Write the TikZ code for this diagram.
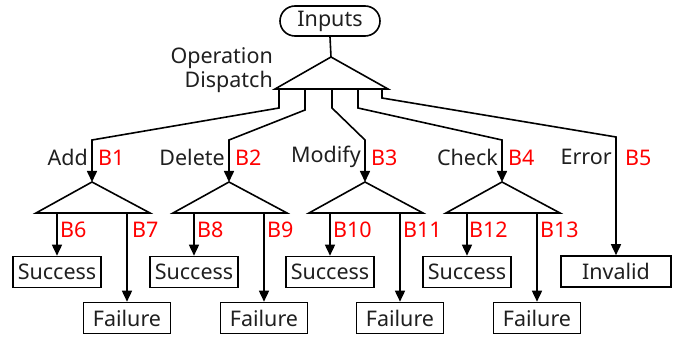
\documentclass[tikz,border=0pt]{standalone}
\usepackage{fontspec}
\setmainfont{Noto Sans}
\usetikzlibrary{arrows.meta}
\begin{document}
\begin{tikzpicture}[x=1pt,y=-1pt,
  every node/.style={font=\fontsize{21.5}{23.5}\selectfont, text=black!88},
  box/.style={draw, line width=1.6pt, rectangle, minimum height=31pt, inner sep=0pt},
  succ/.style={box, minimum width=88pt},
  fail/.style={box, minimum width=87pt},
  tri/.style={line width=1.6pt, line join=miter},
  conn/.style={line width=1.6pt},
  arr/.style={conn, -{Triangle[length=11pt,width=10pt]}},
  blab/.style={text=red, anchor=west, inner sep=0pt},
  oplab/.style={anchor=east, inner sep=0pt}]
\useasboundingbox (0,0) rectangle (691,339);

% input terminal
\node[draw, line width=1.6pt, rounded corners=15pt, minimum width=100pt, minimum height=30pt, inner sep=0pt] (inputs) at (330,21) {Inputs};

% dispatch triangle
\coordinate (dtop) at (331,57);
\coordinate (dl) at (275,89);
\coordinate (dr) at (388,89);
\draw[tri] (dtop) -- (dl) -- (dr) -- cycle;
\draw[conn] (inputs.south) -- (dtop);
\node[anchor=east, align=right, inner sep=0pt] (dispatch) at (273,70) {Operation\\Dispatch};

% outlets on the dispatch base
\coordinate (o1) at (279,89);
\coordinate (o2) at (305,89);
\coordinate (o3) at (332,89);
\coordinate (o4) at (358,89);
\coordinate (o5) at (382,89);

% one sub-triangle per operation
\foreach \n/\cx in {1/92, 2/229, 3/365, 4/502} {
  \coordinate (t\n) at (\cx,182);
  \coordinate (l\n) at (\cx-56,213);
  \coordinate (r\n) at (\cx+58,213);
  \coordinate (bend\n) at (\cx,140);
  \draw[tri] (t\n) -- (l\n) -- (r\n) -- cycle;
  \coordinate (sl\n) at (\cx-35,213);
  \coordinate (sr\n) at (\cx+35,213);
  \node[succ] (s\n) at (\cx-35,272) {Success};
  \node[fail] (f\n) at (\cx+35,318) {Failure};
  \draw[arr] (sl\n) -- (s\n.north -| sl\n);
  \draw[arr] (sr\n) -- (f\n.north -| sr\n);
}

\node[box, minimum width=110pt] (invalid) at (616,271.5) {Invalid};
\coordinate (bend5) at (616,137);

% dispatch connectors
\draw[arr] (o1) -- ++(0,19) -- (bend1) -- (t1);
\draw[arr] (o2) -- ++(0,21) -- (bend2) -- (t2);
\draw[arr] (o3) -- ++(0,19) -- (bend3) -- (t3);
\draw[arr] (o4) -- ++(0,19) -- (bend4) -- (t4);
\draw[arr] (o5) -- ++(0,9) -- (bend5) -- (invalid.north);

% operation labels
\node[oplab] (lAdd) at (88,157) {Add};
\node[oplab] (lDel) at (225,157) {Delete};
\node[oplab] (lMod) at (361,157) {Modify};
\node[oplab] (lChk) at (498,157) {Check};
\node[oplab] (lErr) at (612,157) {Error};
\node[blab] (B1) at (98,158) {B1};
\node[blab] (B2) at (235,158) {B2};
\node[blab] (B3) at (371,158) {B3};
\node[blab] (B4) at (508,158) {B4};
\node[blab] (B5) at (625,158) {B5};

% outcome labels
\node[blab] (B6) at (60,230) {B6};
\node[blab] (B7) at (132,230) {B7};
\node[blab] (B8) at (197,230) {B8};
\node[blab] (B9) at (267,230) {B9};
\node[blab] (B10) at (333,230) {B10};
\node[blab] (B11) at (403,230) {B11};
\node[blab] (B12) at (469,230) {B12};
\node[blab] (B13) at (540,230) {B13};
\end{tikzpicture}
\end{document}
